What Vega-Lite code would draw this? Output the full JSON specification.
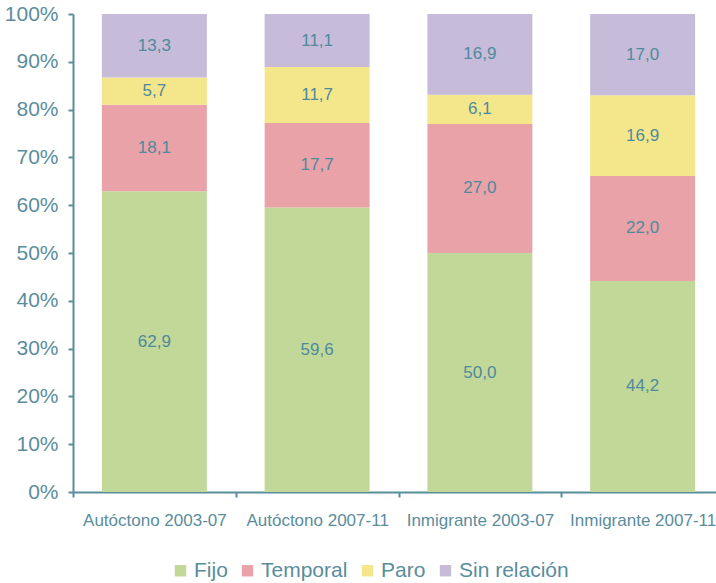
{
  "$schema": "https://vega.github.io/schema/vega-lite/v6.json",
  "autosize": "none",
  "width": 651,
  "height": 478,
  "padding": {"left": 73, "top": 14, "right": 0, "bottom": 91},
  "config": {
    "font": "Liberation Sans",
    "view": {"stroke": null},
    "locale": {"number": {"decimal": ",", "thousands": ".", "grouping": [3], "currency": ["", " €"]}}
  },
  "data": {
    "values": [
      {"grupo": "Autóctono 2003-07", "tipo": "Fijo", "orden": 1, "valor": 62.9},
      {"grupo": "Autóctono 2003-07", "tipo": "Temporal", "orden": 2, "valor": 18.1},
      {"grupo": "Autóctono 2003-07", "tipo": "Paro", "orden": 3, "valor": 5.7},
      {"grupo": "Autóctono 2003-07", "tipo": "Sin relación", "orden": 4, "valor": 13.3},
      {"grupo": "Autóctono 2007-11", "tipo": "Fijo", "orden": 1, "valor": 59.6},
      {"grupo": "Autóctono 2007-11", "tipo": "Temporal", "orden": 2, "valor": 17.7},
      {"grupo": "Autóctono 2007-11", "tipo": "Paro", "orden": 3, "valor": 11.7},
      {"grupo": "Autóctono 2007-11", "tipo": "Sin relación", "orden": 4, "valor": 11.1},
      {"grupo": "Inmigrante 2003-07", "tipo": "Fijo", "orden": 1, "valor": 50.0},
      {"grupo": "Inmigrante 2003-07", "tipo": "Temporal", "orden": 2, "valor": 27.0},
      {"grupo": "Inmigrante 2003-07", "tipo": "Paro", "orden": 3, "valor": 6.1},
      {"grupo": "Inmigrante 2003-07", "tipo": "Sin relación", "orden": 4, "valor": 16.9},
      {"grupo": "Inmigrante 2007-11", "tipo": "Fijo", "orden": 1, "valor": 44.2},
      {"grupo": "Inmigrante 2007-11", "tipo": "Temporal", "orden": 2, "valor": 22.0},
      {"grupo": "Inmigrante 2007-11", "tipo": "Paro", "orden": 3, "valor": 16.9},
      {"grupo": "Inmigrante 2007-11", "tipo": "Sin relación", "orden": 4, "valor": 17.0}
    ]
  },
  "layer": [
    {
      "mark": {"type": "bar", "width": {"band": 0.645}},
      "encoding": {
        "x": {
          "field": "grupo", "type": "nominal", "title": null, "sort": null,
          "scale": {"paddingInner": 0, "paddingOuter": 0},
          "axis": {
            "labelAngle": 0, "labelFontSize": 17, "labelColor": "#5a8d9c", "labelPadding": 15,
            "domainColor": "#5a8d9c", "domainWidth": 2, "tickColor": "#5a8d9c", "tickWidth": 2, "tickSize": 5,
            "tickBand": "extent"
          }
        },
        "y": {
          "field": "valor", "type": "quantitative", "stack": "normalize", "title": null,
          "scale": {"domain": [0, 1]},
          "axis": {
            "values": [0, 0.1, 0.2, 0.3, 0.4, 0.5, 0.6, 0.7, 0.8, 0.9, 1], "format": ".0%",
            "labelFontSize": 21, "labelColor": "#5a8d9c", "labelPadding": 10, "grid": false,
            "domainColor": "#5a8d9c", "domainWidth": 2, "tickColor": "#5a8d9c", "tickWidth": 2, "tickSize": 5
          }
        },
        "color": {
          "field": "tipo", "type": "nominal",
          "scale": {"domain": ["Fijo", "Temporal", "Paro", "Sin relación"], "range": ["#c2d898", "#e8a2a8", "#f4e68a", "#c6bbd8"]},
          "legend": {
            "title": null, "orient": "none", "direction": "horizontal", "legendX": 97, "legendY": 546,
            "symbolType": "square", "symbolSize": 130, "symbolStrokeWidth": 0, "labelFontSize": 21, "labelColor": "#5a8d9c",
            "labelOffset": 3, "columnPadding": 9
          }
        },
        "order": {"field": "orden", "type": "quantitative", "sort": "ascending"}
      }
    },
    {
      "transform": [
        {"stack": "valor", "groupby": ["grupo"], "offset": "normalize", "sort": [{"field": "orden", "order": "ascending"}], "as": ["y0", "y1"]},
        {"fold": ["y0", "y1"], "as": ["extremo", "pos"]},
        {"aggregate": [{"op": "mean", "field": "pos", "as": "medio"}], "groupby": ["grupo", "tipo", "valor"]}
      ],
      "mark": {"type": "text", "fontSize": 17, "color": "#4f8a9d"},
      "encoding": {
        "x": {"field": "grupo", "type": "nominal", "sort": null},
        "y": {"field": "medio", "type": "quantitative"},
        "text": {"field": "valor", "type": "quantitative", "format": ".1f"}
      }
    }
  ]
}
